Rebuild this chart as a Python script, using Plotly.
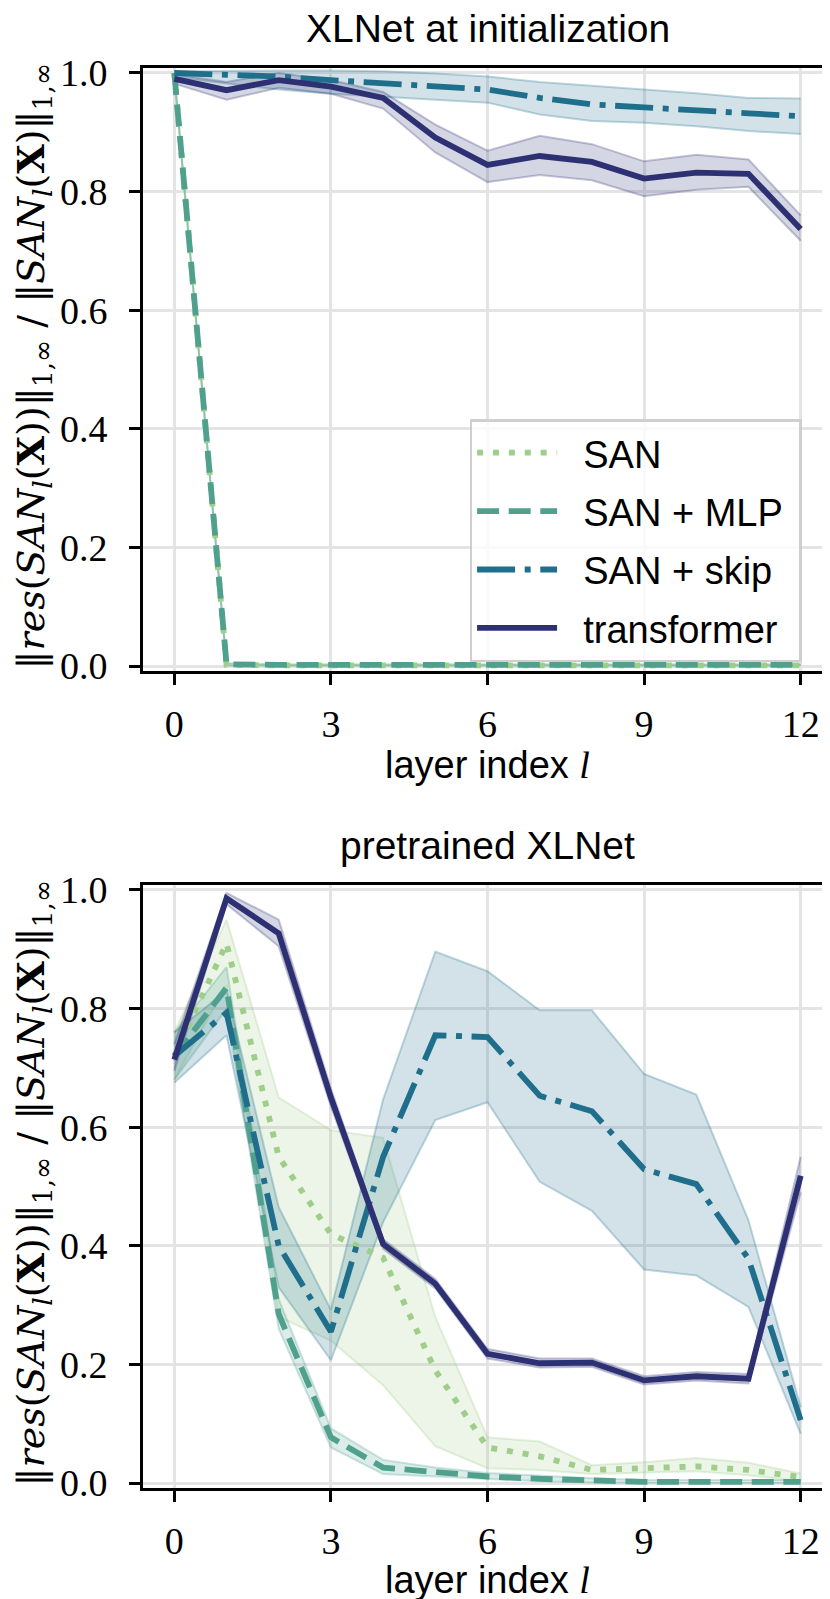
import plotly.graph_objects as go

# ---------------- data ----------------
layers = list(range(13))
x_ticks = [0, 3, 6, 9, 12]
y_ticks = [0.0, 0.2, 0.4, 0.6, 0.8, 1.0]

series_names = ["SAN", "SAN + MLP", "SAN + skip", "transformer"]

# XLNet at initialization
init_san = [1.0, 0.002, 0.001, 0.001, 0.001, 0.001, 0.001, 0.001, 0.001, 0.001, 0.001, 0.001, 0.001]
init_san_lo = [0.995, 0.0, 0.0, 0.0, 0.0, 0.0, 0.0, 0.0, 0.0, 0.0, 0.0, 0.0, 0.0]
init_san_hi = [1.0, 0.004, 0.002, 0.002, 0.002, 0.002, 0.002, 0.002, 0.002, 0.002, 0.002, 0.002, 0.002]

init_mlp = [1.0, 0.003, 0.002, 0.002, 0.002, 0.002, 0.002, 0.002, 0.002, 0.002, 0.002, 0.002, 0.002]
init_mlp_lo = [0.995, 0.001, 0.001, 0.001, 0.001, 0.001, 0.001, 0.001, 0.001, 0.001, 0.001, 0.001, 0.001]
init_mlp_hi = [1.0, 0.005, 0.003, 0.003, 0.003, 0.003, 0.003, 0.003, 0.003, 0.003, 0.003, 0.003, 0.003]

init_skip = [1.0, 0.997, 0.994, 0.988, 0.983, 0.977, 0.972, 0.958, 0.947, 0.942, 0.938, 0.932, 0.927]
init_skip_lo = [0.993, 0.982, 0.972, 0.965, 0.960, 0.955, 0.950, 0.930, 0.919, 0.916, 0.910, 0.902, 0.897]
init_skip_hi = [1.003, 1.004, 1.004, 1.004, 1.003, 0.999, 0.994, 0.985, 0.978, 0.972, 0.966, 0.958, 0.957]

init_trans = [0.990, 0.971, 0.988, 0.977, 0.958, 0.891, 0.845, 0.860, 0.850, 0.822, 0.832, 0.830, 0.737]
init_trans_lo = [0.982, 0.955, 0.975, 0.965, 0.940, 0.866, 0.816, 0.828, 0.819, 0.792, 0.803, 0.808, 0.717]
init_trans_hi = [0.998, 0.985, 1.000, 0.988, 0.968, 0.913, 0.869, 0.894, 0.880, 0.851, 0.862, 0.854, 0.760]

# pretrained XLNet
pre_san = [0.72, 0.91, 0.55, 0.42, 0.38, 0.19, 0.06, 0.045, 0.022, 0.025, 0.028, 0.022, 0.010]
pre_san_lo = [0.68, 0.84, 0.28, 0.24, 0.165, 0.062, 0.025, 0.022, 0.015, 0.017, 0.020, 0.013, 0.003]
pre_san_hi = [0.76, 0.95, 0.65, 0.595, 0.582, 0.28, 0.077, 0.070, 0.030, 0.035, 0.042, 0.034, 0.016]

pre_mlp = [0.72, 0.835, 0.285, 0.077, 0.026, 0.018, 0.011, 0.007, 0.004, 0.002, 0.002, 0.002, 0.002]
pre_mlp_lo = [0.68, 0.80, 0.26, 0.060, 0.015, 0.011, 0.006, 0.003, 0.001, 0.0, 0.0, 0.0, 0.0]
pre_mlp_hi = [0.76, 0.87, 0.31, 0.092, 0.039, 0.026, 0.017, 0.012, 0.008, 0.005, 0.005, 0.005, 0.005]

pre_skip = [0.72, 0.793, 0.40, 0.255, 0.55, 0.755, 0.752, 0.653, 0.627, 0.529, 0.504, 0.378, 0.106]
pre_skip_lo = [0.675, 0.755, 0.33, 0.207, 0.44, 0.612, 0.642, 0.508, 0.459, 0.36, 0.35, 0.297, 0.083]
pre_skip_hi = [0.76, 0.83, 0.465, 0.292, 0.647, 0.896, 0.863, 0.797, 0.797, 0.69, 0.655, 0.443, 0.128]

pre_trans = [0.714, 0.986, 0.927, 0.65, 0.403, 0.336, 0.218, 0.202, 0.203, 0.173, 0.180, 0.176, 0.518]
pre_trans_lo = [0.695, 0.976, 0.905, 0.635, 0.395, 0.328, 0.210, 0.195, 0.196, 0.166, 0.173, 0.168, 0.490]
pre_trans_hi = [0.740, 0.995, 0.950, 0.665, 0.411, 0.344, 0.226, 0.210, 0.210, 0.180, 0.187, 0.184, 0.550]

# ---------------- styles ----------------
colors = ["#9fcd8a", "#50a08e", "#1f6e8c", "#2d3173"]
rgb = [(159, 205, 138), (80, 160, 142), (31, 110, 140), (45, 49, 115)]
dashes = ["6px,9.9px", "22px,9.6px", "38px,9.6px,6px,9.6px", "solid"]
LW = 5.8

SANS = "Liberation Sans, Arial, sans-serif"
SERIF = "Liberation Serif, Times New Roman, serif"
MATH = "DejaVu Serif, serif"
FS = 38
NB = "\u00a0"

panels = [
    dict(xa="x", ya="y",
         vals=[init_san, init_mlp, init_skip, init_trans],
         lo=[init_san_lo, init_mlp_lo, init_skip_lo, init_trans_lo],
         hi=[init_san_hi, init_mlp_hi, init_skip_hi, init_trans_hi],
         legend=True),
    dict(xa="x2", ya="y2",
         vals=[pre_san, pre_mlp, pre_skip, pre_trans],
         lo=[pre_san_lo, pre_mlp_lo, pre_skip_lo, pre_trans_lo],
         hi=[pre_san_hi, pre_mlp_hi, pre_skip_hi, pre_trans_hi],
         legend=False),
]

fig = go.Figure()
for p in panels:
    # bands first (under all lines)
    for i in range(4):
        r, g, b = rgb[i]
        edge = f"rgba({r},{g},{b},0.28)"
        fill = f"rgba({r},{g},{b},0.2)"
        fig.add_trace(go.Scatter(x=layers, y=p["hi"][i], xaxis=p["xa"], yaxis=p["ya"],
                                 mode="lines", line=dict(color=edge, width=2),
                                 showlegend=False, hoverinfo="skip"))
        fig.add_trace(go.Scatter(x=layers, y=p["lo"][i], xaxis=p["xa"], yaxis=p["ya"],
                                 mode="lines", line=dict(color=edge, width=2),
                                 fill="tonexty", fillcolor=fill,
                                 showlegend=False, hoverinfo="skip"))
    for i in range(4):
        fig.add_trace(go.Scatter(x=layers, y=p["vals"][i], xaxis=p["xa"], yaxis=p["ya"],
                                 mode="lines", name=NB * 2 + series_names[i] + NB,
                                 line=dict(color=colors[i], width=LW, dash=dashes[i]),
                                 showlegend=p["legend"], legendgroup=f"g{i}"))

# ---------------- layout ----------------
W, H = 830, 1599
ML, MR, MT, MB = 135, 3, 60, 119
plot_h = H - MT - MB
def py(pix):
    return (H - MB - pix) / plot_h
def px(pix):
    return (pix - ML) / (W - ML - MR)

top_dom = [py(663), 1.0]
bot_dom = [0.0, py(877)]

axis_common = dict(
    showline=True, linecolor="black", linewidth=3, mirror=True,
    ticks="outside", ticklen=11, tickwidth=2.5, tickcolor="black",
    showgrid=True, gridcolor="#e4e4e4", gridwidth=2.5,
    zeroline=False,
    tickfont=dict(family=SERIF, size=FS, color="black"),
)
xcommon = dict(axis_common, range=[-0.6, 12.6], tickvals=x_ticks, ticktext=[str(t) for t in x_ticks],
               ticklabelstandoff=6)
ycommon = dict(axis_common, range=[-0.0084, 1.0084], tickvals=y_ticks,
               ticktext=[f"{t:.1f}" for t in y_ticks], ticklabelstandoff=14)

ytitle = ("‖<i>res</i>(<i>SAN<sub>l</sub></i>(<b>X</b>))‖<sub>1,∞</sub> / "
          "‖<i>SAN<sub>l</sub></i>(<b>X</b>)‖<sub>1,∞</sub>")
xtitle = 'layer index <span style="font-family:Liberation Serif"><i>l</i></span>'

annotations = [
    dict(text="XLNet at initialization", x=0.5, y=py(20), xref="paper", yref="paper",
         showarrow=False, xanchor="center", yanchor="middle",
         font=dict(family=SANS, size=39, color="black")),
    dict(text="pretrained XLNet", x=0.5, y=py(838), xref="paper", yref="paper",
         showarrow=False, xanchor="center", yanchor="middle",
         font=dict(family=SANS, size=39, color="black")),
    dict(text=xtitle, x=0.5, y=py(757), xref="paper", yref="paper",
         showarrow=False, xanchor="center", yanchor="middle",
         font=dict(family=SANS, size=FS, color="black")),
    dict(text=xtitle, x=0.5, y=py(1572), xref="paper", yref="paper",
         showarrow=False, xanchor="center", yanchor="middle",
         font=dict(family=SANS, size=FS, color="black")),
    dict(text=ytitle, x=px(25), y=py(358), xref="paper", yref="paper", textangle=-90,
         showarrow=False, xanchor="center", yanchor="middle",
         font=dict(family=MATH, size=FS, color="black")),
    dict(text=ytitle, x=px(25), y=py(1175), xref="paper", yref="paper", textangle=-90,
         showarrow=False, xanchor="center", yanchor="middle",
         font=dict(family=MATH, size=FS, color="black")),
]

fig.update_layout(
    width=W, height=H,
    margin=dict(l=ML, r=MR, t=MT, b=MB, pad=0),
    paper_bgcolor="white", plot_bgcolor="white",
    xaxis=dict(xcommon, domain=[0, 1], anchor="y"),
    yaxis=dict(ycommon, domain=top_dom, anchor="x"),
    xaxis2=dict(xcommon, domain=[0, 1], anchor="y2"),
    yaxis2=dict(ycommon, domain=bot_dom, anchor="x2"),
    legend=dict(x=px(463), y=py(411), xanchor="left", yanchor="top",
                bgcolor="rgba(255,255,255,0.8)", bordercolor="#cfcfcf", borderwidth=2.5,
                font=dict(family=SANS, size=FS, color="black"),
                itemwidth=80, traceorder="grouped", tracegroupgap=6),
    annotations=annotations,
    showlegend=True,
)

fig.write_html("out.html")
